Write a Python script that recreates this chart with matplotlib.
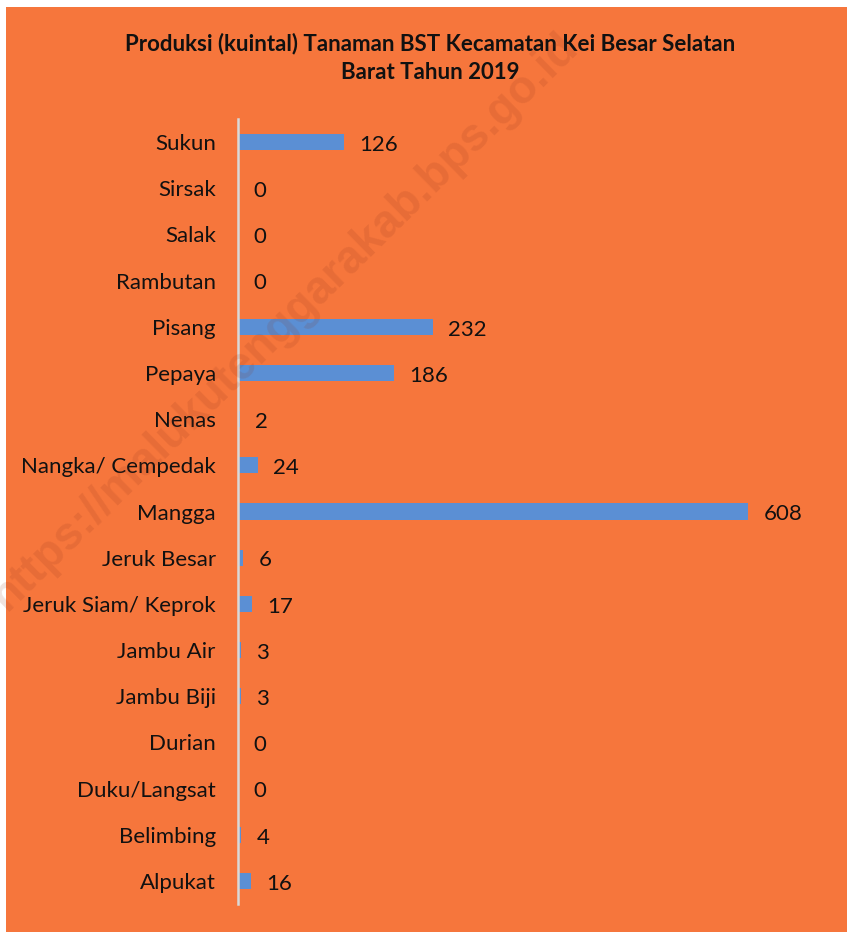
import matplotlib
matplotlib.use("Agg")
import matplotlib.pyplot as plt
from matplotlib.patches import Rectangle

categories = ["Sukun", "Sirsak", "Salak", "Rambutan", "Pisang", "Pepaya", "Nenas",
              "Nangka/ Cempedak", "Mangga", "Jeruk Besar", "Jeruk Siam/ Keprok",
              "Jambu Air", "Jambu Biji", "Durian", "Duku/Langsat", "Belimbing", "Alpukat"]
values = [126, 0, 0, 0, 232, 186, 2, 24, 608, 6, 17, 3, 3, 0, 0, 4, 16]
title = "Produksi (kuintal) Tanaman BST Kecamatan Kei Besar Selatan\nBarat Tahun 2019"
watermark = "https://malukutenggarakab.bps.go.id"

W, H = 847, 932
ORANGE = "#F6763C"
BLUE = "#5B8FD4"

fig = plt.figure(figsize=(W / 100, H / 100), dpi=100, facecolor="white")
bg = Rectangle((6 / W, 0), 1 - 6 / W, (H - 7) / H, transform=fig.transFigure,
               facecolor=ORANGE, edgecolor="none", zorder=-10)
fig.patches.append(bg)

xmax = 700
px_per_unit = (748 - 238) / 608
left = 238 / W
width = xmax * px_per_unit / W
bottom = 1 - 904 / H
top = 1 - 119 / H
ax = fig.add_axes([left, bottom, width, top - bottom])
ax.set_facecolor("none")
ax.set_zorder(1)

ypos = list(range(len(categories)))
ax.barh(ypos, values, height=0.35, color=BLUE, zorder=2)
ax.set_xlim(0, xmax)
ax.set_ylim(len(categories) - 0.5, -0.5)
ax.set_yticks(ypos)
ax.set_yticklabels(categories, fontsize=16, family="Lato", color="#111111")
ax.tick_params(axis="y", length=0, pad=16)
ax.set_xticks([])
for s in ["top", "right", "bottom"]:
    ax.spines[s].set_visible(False)
ax.spines["left"].set_color("#D9D9D9")
ax.spines["left"].set_linewidth(1.8)
ax.spines["left"].set_zorder(3)

for y, v in zip(ypos, values):
    ax.annotate(str(v), xy=(v, y), xytext=(11, -2), textcoords="offset points",
                va="center", ha="left", fontsize=16, family="Lato", color="#111111")

fig.text(430 / W, 1 - 58 / H, title, ha="center", va="center", fontsize=16,
         fontweight="bold", family="Lato", color="#111111", linespacing=1.45)

fig.text(285 / W, 1 - 322 / H, watermark, ha="center", va="center", rotation=44.5,
         fontsize=33, fontweight="bold", family="Liberation Sans",
         color=(0.55, 0.2, 0.1), alpha=0.14, rotation_mode="anchor", zorder=5)

fig.savefig("out.png", dpi=100, facecolor="white")
